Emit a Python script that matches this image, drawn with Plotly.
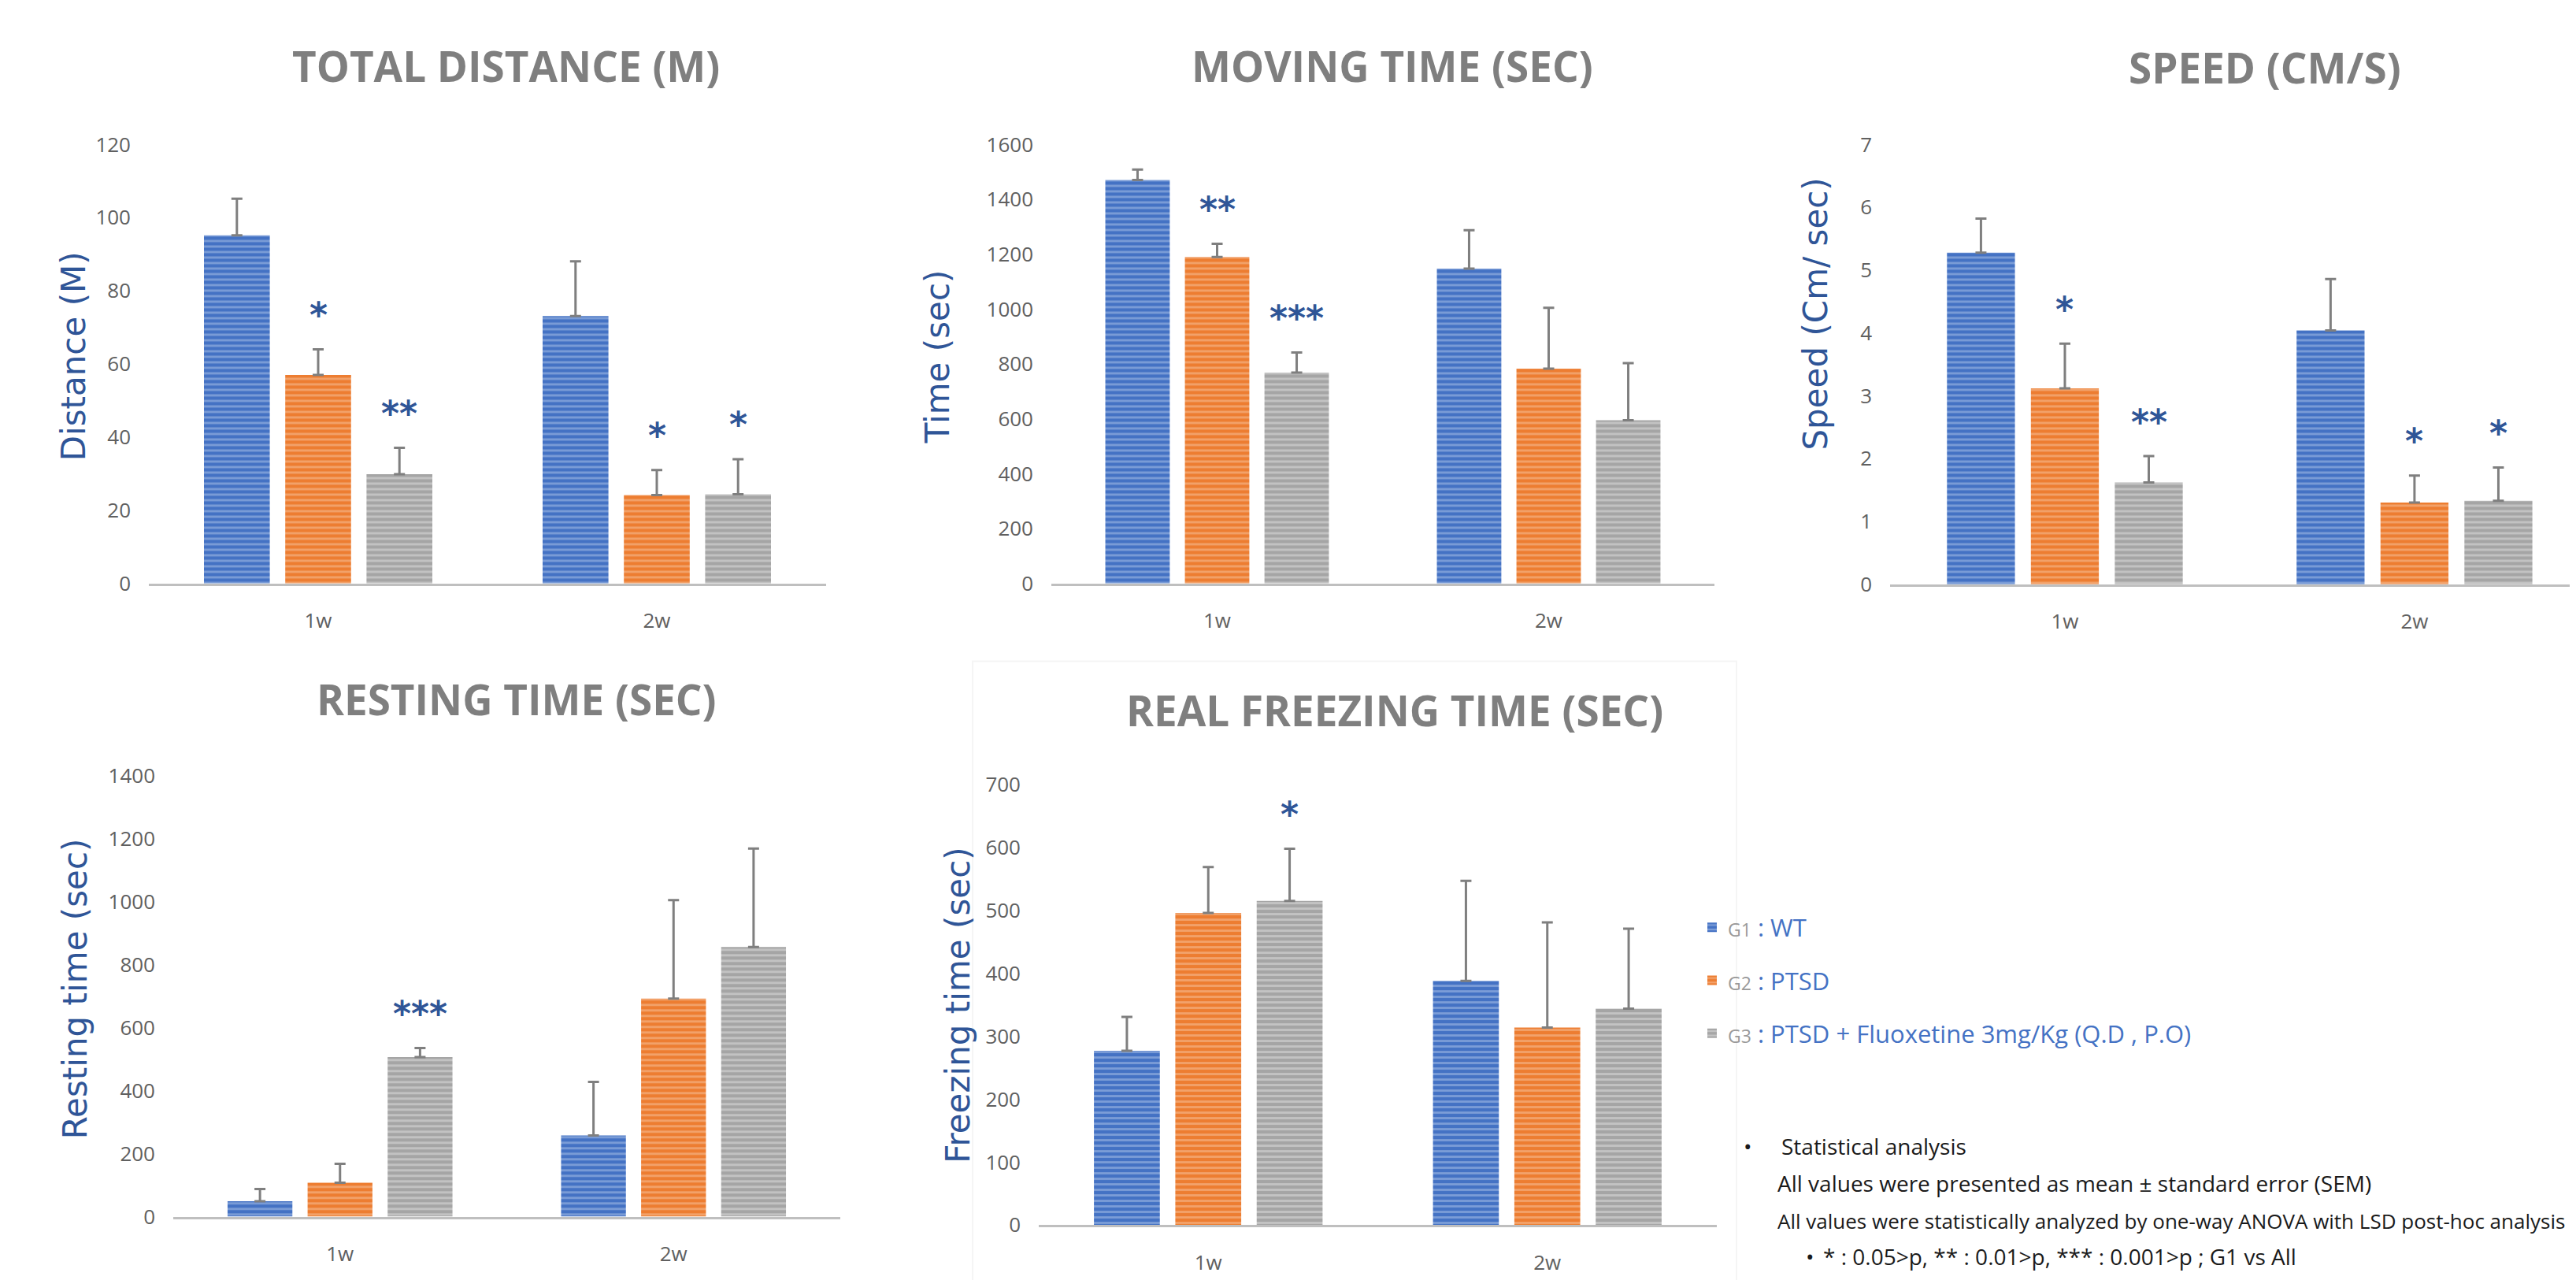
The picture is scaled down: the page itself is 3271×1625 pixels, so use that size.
import plotly.graph_objects as go

W, H = 3271, 1625
OFF = 8  # default page (body) margin of the written html

# ---------------- data ----------------
weeks = ["1w", "2w"]
group_tags = ["G1", "G2", "G3"]
group_labels = [" : WT", " : PTSD", " : PTSD + Fluoxetine 3mg/Kg (Q.D , P.O)"]

# Total distance (M)   [1w, 2w]
dist_g1 = [95.2, 73.1]
dist_g2 = [57.0, 24.2]
dist_g3 = [29.9, 24.4]
dist_e1 = [10.0, 15.0]
dist_e2 = [7.0, 6.8]
dist_e3 = [7.2, 9.6]
dist_star = [["", ""], ["*", "*"], ["**", "*"]]

# Moving time (sec)
move_g1 = [1471, 1148]
move_g2 = [1190, 783]
move_g3 = [769, 595]
move_e1 = [38, 140]
move_e2 = [48, 222]
move_e3 = [73, 208]
move_star = [["", ""], ["**", ""], ["***", ""]]

# Speed (cm/s)
speed_g1 = [5.28, 4.04]
speed_g2 = [3.12, 1.30]
speed_g3 = [1.62, 1.33]
speed_e1 = [0.54, 0.82]
speed_e2 = [0.71, 0.43]
speed_e3 = [0.42, 0.53]
speed_star = [["", ""], ["*", "*"], ["**", "*"]]

# Resting time (sec)
rest_g1 = [49, 258]
rest_g2 = [108, 693]
rest_g3 = [507, 857]
rest_e1 = [39, 170]
rest_e2 = [60, 313]
rest_e3 = [29, 313]
rest_star = [["", ""], ["", ""], ["***", ""]]

# Real freezing time (sec)
freeze_g1 = [277, 388]
freeze_g2 = [496, 314]
freeze_g3 = [515, 344]
freeze_e1 = [54, 159]
freeze_e2 = [73, 167]
freeze_e3 = [83, 127]
freeze_star = [["", ""], ["", ""], ["*", ""]]

titles = ["TOTAL DISTANCE (M)", "MOVING TIME (SEC)", "SPEED (CM/S)",
          "RESTING TIME (SEC)", "REAL FREEZING TIME (SEC)"]
ytitles = ["Distance (M)", "Time (sec)", "Speed (Cm/ sec)",
           "Resting time (sec)", "Freezing time (sec)"]
ymax = [120, 1600, 7, 1400, 700]
ydtick = [20, 200, 1, 200, 100]

stats_lines = [
    "Statistical analysis",
    "All values were presented as mean ± standard error (SEM)",
    "All values were statistically analyzed by one-way ANOVA with LSD post-hoc analysis",
    "* : 0.05>p, ** : 0.01>p, *** : 0.001>p ; G1 vs All",
]

# ---------------- style ----------------
base_cols = ["#4472C4", "#ED7D31", "#A5A5A5"]
light_cols = ["#B4C7EA", "#F8C7A6", "#E2E2E2"]
SANS = "Open Sans, sans-serif"
TITLE_FONT = dict(family=SANS, size=53, color="#7F7F7F")
TICK_FONT = dict(family=SANS, size=26, color="#606060")
YT_FONT = dict(family="DejaVu Sans, Verdana, sans-serif", size=42, color="#2F5597")
STAR_FONT = dict(family="DejaVu Sans, sans-serif", size=44, color="#2F5597")
STAT_SIZES = [28, 28, 26, 28]


def X(px):
    return (px - OFF) / W


def Y(py):
    return 1 - (py - OFF) / H


# panel geometry in page pixels: (x0, x1, ytop, ybottom, xrange_end)
panels = [
    (189, 1049, 168, 738, 1.5),
    (1335, 2177, 168, 738, 1.5),
    (2400, 3271, 168, 739, 1.462),
    (220, 1067, 988, 1560, 1.5),
    (1319, 2180, 999, 1571, 1.5),
]
title_pos = [(642, 66), (1768, 66), (2876, 68), (656, 888), (1771, 902)]
ytitle_pos = [(93, 443), (1190, 444), (2306, 388), (95, 1264), (1217, 1286)]

datasets = [
    ([dist_g1, dist_g2, dist_g3], [dist_e1, dist_e2, dist_e3], dist_star),
    ([move_g1, move_g2, move_g3], [move_e1, move_e2, move_e3], move_star),
    ([speed_g1, speed_g2, speed_g3], [speed_e1, speed_e2, speed_e3], speed_star),
    ([rest_g1, rest_g2, rest_g3], [rest_e1, rest_e2, rest_e3], rest_star),
    ([freeze_g1, freeze_g2, freeze_g3], [freeze_e1, freeze_e2, freeze_e3], freeze_star),
]

BARGAP = 0.28
fig = go.Figure()
annotations = []
layout_axes = {}

for p, (vals, errs, stars) in enumerate(datasets):
    n = p + 1
    xa = "x" if n == 1 else f"x{n}"
    ya = "y" if n == 1 else f"y{n}"
    for k in range(3):
        name = (f"<span style='color:#9A9A9A;font-size:23px'>{group_tags[k]}</span>"
                f"{group_labels[k]}")
        fig.add_trace(go.Bar(
            x=weeks, y=vals[k], name=name, xaxis=xa, yaxis=ya,
            legendgroup=f"g{k}", showlegend=(p == 0),
            marker=dict(color=base_cols[k], line=dict(width=0),
                        pattern=dict(shape="-", fgcolor=light_cols[k], bgcolor=base_cols[k],
                                     size=7, solidity=0.4)),
            error_y=dict(type="data", symmetric=False, array=errs[k],
                         arrayminus=[0] * len(errs[k]), color="#7F7F7F",
                         thickness=3, width=7),
        ))
        slot = (1 - BARGAP) / 3
        for i in range(2):
            if stars[k][i]:
                annotations.append(dict(
                    x=i + (k - 1) * slot, y=vals[k][i] + errs[k][i],
                    xref=xa, yref=ya, text=f"<b>{stars[k][i]}</b>", showarrow=False,
                    font=STAR_FONT, yanchor="middle", yshift=44))
    x0, x1, yt, yb, xr = panels[p]
    layout_axes["xaxis" if n == 1 else f"xaxis{n}"] = dict(
        domain=[X(x0), min(1.0, X(x1))], anchor=ya, type="category", range=[-0.5, xr],
        showline=True, linecolor="#BFBFBF", linewidth=3, showgrid=False,
        ticks="", tickfont=TICK_FONT, ticklabelstandoff=22, fixedrange=True)
    layout_axes["yaxis" if n == 1 else f"yaxis{n}"] = dict(
        domain=[Y(yb), Y(yt)], anchor=xa, range=[0, ymax[p]], dtick=ydtick[p],
        showline=False, showgrid=False, zeroline=False, ticks="",
        tickfont=TICK_FONT, ticklabelstandoff=22, fixedrange=True)
    tx, ty = title_pos[p]
    annotations.append(dict(x=X(tx), y=Y(ty), xref="paper", yref="paper",
                            text=f"<b>{titles[p]}</b>", showarrow=False,
                            font=TITLE_FONT, xanchor="center", yanchor="middle"))
    yx, yy = ytitle_pos[p]
    annotations.append(dict(x=X(yx), y=Y(yy), xref="paper", yref="paper",
                            text=ytitles[p], showarrow=False, textangle=-90,
                            font=YT_FONT, xanchor="center", yanchor="middle"))

BULLET_FONT = dict(family=SANS, size=28, color="#1A1A1A")
annotations.append(dict(x=X(2219), y=Y(1468), xref="paper", yref="paper", text="•",
                        showarrow=False, font=BULLET_FONT, xanchor="center", yanchor="middle"))
stat_pos = [(2260, 1468), (2255, 1516), (2255, 1565), (2313, 1612)]
for (sx, sy), line, fs in zip(stat_pos, stats_lines, STAT_SIZES):
    annotations.append(dict(x=X(sx), y=Y(sy), xref="paper", yref="paper", text=line,
                            showarrow=False, font=dict(family=SANS, size=fs, color="#1A1A1A"),
                            xanchor="left", yanchor="middle"))
annotations.append(dict(x=X(2298), y=Y(1612), xref="paper", yref="paper", text="•",
                        showarrow=False, font=BULLET_FONT, xanchor="center", yanchor="middle"))

fig.update_layout(
    width=W, height=H, margin=dict(l=0, r=0, t=0, b=0),
    paper_bgcolor="white", plot_bgcolor="white",
    barmode="group", bargap=BARGAP, bargroupgap=0.19,
    annotations=annotations,
    shapes=[dict(type="rect", xref="paper", yref="paper",
                 x0=X(1235), x1=X(2205), y0=-0.02, y1=Y(839),
                 line=dict(color="#F5F5F5", width=2), layer="below")],
    legend=dict(x=X(2154), y=Y(1157), xanchor="left", yanchor="top",
                font=dict(family=SANS, size=31, color="#4472C4"),
                tracegroupgap=24, bgcolor="rgba(0,0,0,0)"),
    showlegend=True,
    **layout_axes,
)

fig.write_html("out.html")
